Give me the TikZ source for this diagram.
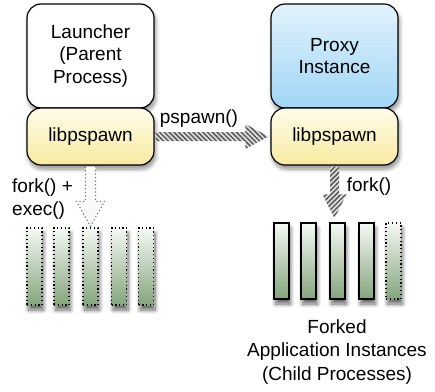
\documentclass[tikz,border=0pt]{standalone}
\usepackage{fontspec}
\setmainfont{Liberation Sans}
\usetikzlibrary{shadows.blur,patterns.meta,calc}
\definecolor{yelTop}{RGB}{255,252,234}
\definecolor{yelBot}{RGB}{248,234,160}
\definecolor{bluTop}{RGB}{226,242,252}
\definecolor{bluBot}{RGB}{160,214,246}
\definecolor{grnTop}{RGB}{246,249,245}
\definecolor{grnBot}{RGB}{132,164,124}
\begin{document}
\begin{tikzpicture}[x=1pt,y=-1pt,
  font=\fontsize{19}{22.5}\selectfont,
  softshadow/.style={blur shadow={shadow xshift=1.5pt,shadow yshift=-4pt,shadow blur steps=8,shadow opacity=45,shadow blur radius=4pt}},
  barshadow/.style={blur shadow={shadow xshift=1.5pt,shadow yshift=-5pt,shadow blur steps=8,shadow opacity=60,shadow blur radius=4pt}},
  box/.style={draw=black,line width=1.2pt,rounded corners=14pt,minimum width=127pt,align=center,inner sep=0pt,softshadow},
  bigbox/.style={box,minimum height=104pt},
  libbox/.style={box,minimum height=57pt,top color=yelTop,bottom color=yelBot},
  bar/.style={minimum width=15pt,minimum height=76pt,inner sep=0pt,top color=grnTop,bottom color=grnBot,barshadow},
  solidbar/.style={bar,draw=black,line width=1.2pt},
  dotbar/.style={bar,draw=black,line width=1.3pt,dash pattern=on 1.2pt off 2.6pt},
  stripeH/.style={pattern={Lines[angle=-45,distance=3.4pt,line width=1.5pt]},pattern color=black!65,preaction={fill=black!12}},
  stripeV/.style={pattern={Lines[angle=45,distance=3.4pt,line width=1.5pt]},pattern color=black!65,preaction={fill=black!12}},
  ghost/.style={draw=black!55,line width=1.1pt,dash pattern=on 1.2pt off 2.4pt,top color=white,bottom color=black!3},
  lbl/.style={inner sep=0pt,align=left}
]
\useasboundingbox (0,0) rectangle (435,391);

% left process
\node[bigbox,fill=white] (launcher) at (90.5,56) {Launcher\\(Parent\\Process)};
\node[libbox] (lib1) at (90.5,136.5) {libpspawn};

% right process
\node[bigbox,top color=bluTop,bottom color=bluBot] (proxy) at (334.5,56) {Proxy\\Instance};
\node[libbox] (lib2) at (334.5,136.5) {libpspawn};

% left bars
\node[dotbar,minimum height=77pt] (l1) at (34.5,266.5) {};
\node[dotbar,minimum height=77pt] (l2) at (61.5,266.5) {};
\node[dotbar,minimum height=77pt] (l3) at (90.5,266.5) {};
\node[dotbar,minimum height=77pt] (l4) at (119,266.5) {};
\node[dotbar,minimum height=77pt] (l5) at (146,266.5) {};

% right bars
\node[solidbar] (r1) at (281.5,261) {};
\node[solidbar] (r2) at (308.5,261) {};
\node[solidbar] (r3) at (337.5,261) {};
\node[solidbar] (r4) at (366.5,261) {};
\node[dotbar] (r5) at (393.5,261) {};

% pspawn arrow
\path[stripeH] let \p1=(lib1.east), \p2=(lib2.west) in
  (\x1+1pt,\y1+4.5pt) -- (\x2-25pt,\y1+4.5pt) -- (\x2-25pt,\y1+12.5pt) -- (\x2-2pt,\y1)
  -- (\x2-25pt,\y1-12.5pt) -- (\x2-25pt,\y1-4.5pt) -- (\x1+1pt,\y1-4.5pt) -- cycle;

% fork arrow (right)
\path[stripeV] let \p1=(lib2.south), \p2=(r3.north) in
  (\x1-4.5pt,\y1-1pt) -- (\x1-4.5pt,\y2+28pt) -- (\x1-12pt,\y2+28pt) -- (\x1,\y2+4pt)
  -- (\x1+12pt,\y2+28pt) -- (\x1+4.5pt,\y2+28pt) -- (\x1+4.5pt,\y1-1pt) -- cycle;

% fork+exec arrow (left, ghost)
\path[ghost] let \p1=(lib1.south), \p2=(l3.north) in
  (\x1-5pt,\y1-1pt) -- (\x1-5pt,\y2+26pt) -- (\x1-14pt,\y2+26pt) -- (\x1,\y2+1pt)
  -- (\x1+14pt,\y2+26pt) -- (\x1+5pt,\y2+26pt) -- (\x1+5pt,\y1-1pt);

% labels
\node[lbl] (pspawnlbl) at (199,119) {pspawn()};
\node[lbl] (forklbl) at (369,187) {fork()};
\node[lbl,anchor=west] (forkexec) at (12,199) {fork() +\\exec()};
\node[align=center,inner sep=0pt,font=\fontsize{19}{23.5}\selectfont] (caption) at (337,352) {Forked\\Application Instances\\(Child Processes)};
\end{tikzpicture}
\end{document}
